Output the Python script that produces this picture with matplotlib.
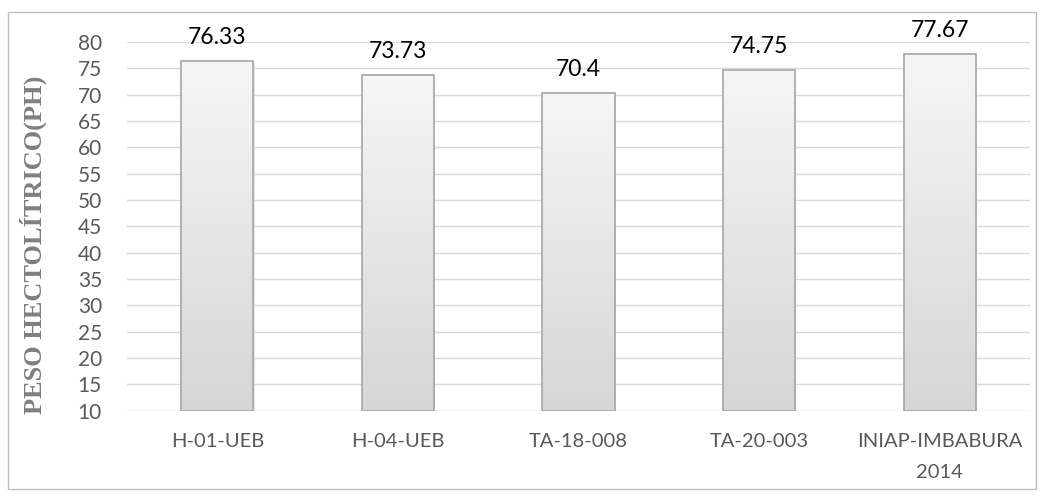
import numpy as np
import matplotlib
matplotlib.use("Agg")
import matplotlib.pyplot as plt
from matplotlib.patches import Rectangle
from matplotlib.colors import LinearSegmentedColormap

categories = ["H-01-UEB", "H-04-UEB", "TA-18-008", "TA-20-003", "INIAP-IMBABURA\n2014"]
values = [76.33, 73.73, 70.4, 74.75, 77.67]
value_labels = ["76.33", "73.73", "70.4", "74.75", "77.67"]
yticks = list(range(10, 85, 5))

W, H = 1044, 496
fig = plt.figure(figsize=(W / 100, H / 100), dpi=100)
plt.rcParams["font.family"] = ["Lato", "DejaVu Sans"]

# outer chart frame
fig.patches.append(Rectangle((8 / W, 1 - 489 / H), 1028 / W, 477 / H,
                             transform=fig.transFigure, fill=False,
                             edgecolor="#bfbfbf", linewidth=1.0))

ax = fig.add_axes([127 / W, 1 - 411 / H, 903 / W, (411 - 42) / H])

for s in ax.spines.values():
    s.set_visible(False)
ax.set_yticks(yticks)
ax.set_yticklabels([str(t) for t in yticks], family=["Lato", "DejaVu Sans"])
ax.tick_params(axis="both", length=0, labelsize=15, colors="#595959")
ax.tick_params(axis="y", pad=18)
ax.tick_params(axis="x", pad=16)
ax.set_xticks(range(len(categories)))
ax.set_xticklabels(categories, fontsize=14.5, family=["Lato", "DejaVu Sans"])
for t in ax.get_xticklabels():
    t.set_linespacing(2.0)
ax.grid(axis="y", color="#d9d9d9", linewidth=1.0)
ax.set_axisbelow(True)

cmap = LinearSegmentedColormap.from_list("barfill", ["#d6d6d6", "#f6f6f6"])
grad = np.linspace(0, 1, 256).reshape(-1, 1)

bars = ax.bar(range(len(categories)), [v - 10 for v in values], bottom=10,
              width=0.4, facecolor="none", edgecolor="#a6a6a6",
              linewidth=1.2, zorder=3)
for b, lab in zip(bars, value_labels):
    x0, y0 = b.get_x(), b.get_y()
    w, h = b.get_width(), b.get_height()
    # soft drop shadow
    ax.add_patch(Rectangle((x0 + 0.006, y0), w, h - 0.3, facecolor="#e4e4e4",
                           edgecolor="none", zorder=2))
    im = ax.imshow(grad, cmap=cmap, aspect="auto", origin="lower",
                   extent=(x0, x0 + w, y0, y0 + h), zorder=2.5,
                   interpolation="bilinear")
    im.set_clip_path(b)
    ax.text(x0 + w / 2, y0 + h + 3.2, lab, ha="center", va="baseline",
            fontsize=16.5, color="black", family=["Lato", "DejaVu Sans"])

ax.set_xlim(-0.5, len(categories) - 0.5)
ax.set_ylim(9.95, 80)

fig.text(33 / W, 1 - 245 / H, "PESO HECTOLÍTRICO(PH)", rotation=90,
         ha="center", va="center", fontsize=19, fontweight="bold",
         family="Liberation Serif", color="#7f7f7f")

fig.savefig("out.png", dpi=100)
